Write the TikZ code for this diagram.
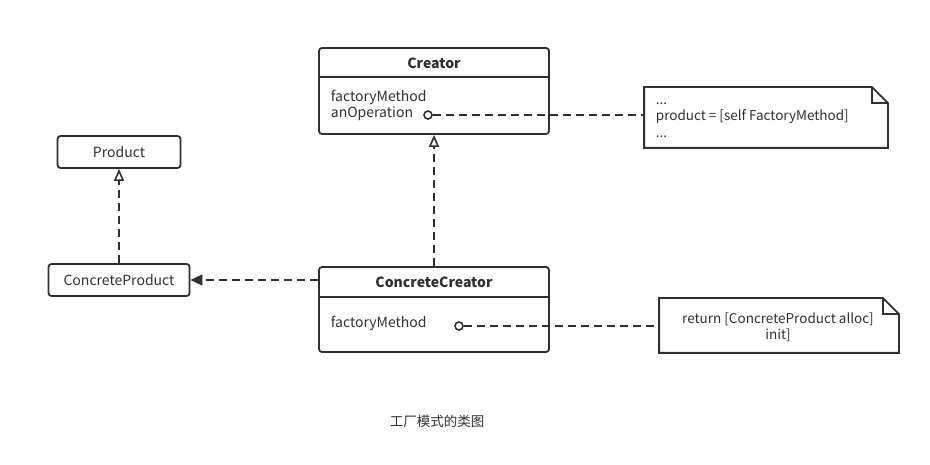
\documentclass[tikz,border=0pt]{standalone}
\usepackage{fontspec}
\setmainfont{Noto Sans CJK SC}
\usetikzlibrary{arrows.meta}
\definecolor{ink}{HTML}{2F2F2F}

\begin{document}
\begin{tikzpicture}[x=1pt,y=-1pt,line width=1.8pt,draw=ink,text=ink,
    font=\fontsize{14}{16}\selectfont,
    classbox/.style={draw,rounded corners=3pt,inner sep=0pt},
    link/.style={dash pattern=on 8pt off 5pt},
    opentip/.style={-{Triangle[open,length=12pt,width=10pt,line width=1.6pt]}},
    dot/.style={circle,draw,fill=white,inner sep=0pt,minimum size=8pt,line width=1.6pt}]
    \useasboundingbox (0,0) rectangle (930,465);

    % classes
    \node[classbox,minimum width=230,minimum height=86] (creator) at (434,91) {};
    \draw (319,77) -- (549,77);
    \node[font=\fontsize{14}{16}\selectfont\bfseries] (creatorname) at (434,63) {Creator};
    \node[anchor=west,inner sep=0pt] (creatorfm) at (330,97.5) {factoryMethod};
    \node[anchor=west,inner sep=0pt] (creatorop) at (330,113.5) {anOperation};

    \node[classbox,minimum width=230,minimum height=85] (concrete) at (434,309.5) {};
    \draw (319,297) -- (549,297);
    \node[font=\fontsize{14}{16}\selectfont\bfseries] (concretename) at (434,282) {ConcreteCreator};
    \node[anchor=west,inner sep=0pt] (concretefm) at (330,323) {factoryMethod};

    \node[classbox,minimum width=123,minimum height=32] (product) at (119,152) {Product};
    \node[classbox,minimum width=141,minimum height=32] (cproduct) at (119,280) {ConcreteProduct};

    % notes
    \node[minimum width=242,minimum height=59,inner sep=0pt] (note1) at (766,117.5) {};
    \draw (note1.south west) -- (note1.north west) -- ([xshift=-16pt]note1.north east)
      -- ([yshift=-16pt]note1.north east) -- (note1.south east) -- cycle;
    \draw ([xshift=-16pt]note1.north east) -- ([xshift=-16pt,yshift=-16pt]note1.north east)
      -- ([yshift=-16pt]note1.north east);
    \node[anchor=west,inner sep=0pt,align=left,font=\fontsize{13.5}{16.5}\selectfont] (note1text) at (655,120)
      {...\\product = [self FactoryMethod]\\...};

    \node[minimum width=238,minimum height=53,inner sep=0pt] (note2) at (779,325.5) {};
    \draw (note2.south west) -- (note2.north west) -- ([xshift=-16pt]note2.north east)
      -- ([yshift=-16pt]note2.north east) -- (note2.south east) -- cycle;
    \draw ([xshift=-16pt]note2.north east) -- ([xshift=-16pt,yshift=-16pt]note2.north east)
      -- ([yshift=-16pt]note2.north east);
    \node[align=center,inner sep=0pt,font=\fontsize{13.5}{16}\selectfont] (note2text) at (778,327)
      {return [ConcreteProduct alloc]\\init]};

    % connectors
    \node[dot] (opdot) at (428,115) {};
    \draw[link] (opdot) -- (opdot -| note1.west);
    \node[dot] (fmdot) at (459,326) {};
    \draw[link] (fmdot) -- (fmdot -| note2.west);

    \draw[link,opentip] (concrete.north) -- (creator.south);
    \draw[link,opentip] (cproduct.north) -- (product.south);
    \draw[link,-{Triangle[length=12pt,width=11pt]}] (concrete.west |- cproduct) -- (cproduct.east);

    \node[font=\fontsize{13.5}{15}\selectfont] (caption) at (437,421) {工厂模式的类图};
\end{tikzpicture}
\end{document}
